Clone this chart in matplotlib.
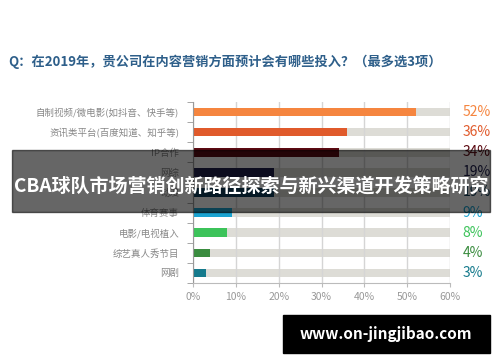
import matplotlib
matplotlib.use("Agg")
from matplotlib import pyplot as plt
from matplotlib.patches import Rectangle

plt.rcParams['font.family'] = ['Noto Sans CJK SC', 'DejaVu Sans']

categories = ["自制视频/微电影(如抖音、快手等)", "资讯类平台(百度知道、知乎等)", "IP合作", "网综",
              "动漫", "体育赛事", "电影/电视植入", "综艺真人秀节目", "网剧"]
values = [52, 36, 34, 19, 19, 9, 8, 4, 3]
labels = ["52%", "36%", "34%", "19%", "19%", "9%", "8%", "4%", "3%"]
colors = ["#f5853f", "#e05a2b", "#5c0a12", "#1f1f4d", "#0e3d5c", "#19a3d1", "#3cc35a", "#3a8c3f", "#157a8c"]
xticks = [0, 10, 20, 30, 40, 50, 60]

fig = plt.figure(figsize=(5, 3.62), dpi=100)
ax = fig.add_axes([193 / 500, 1 - 283 / 362, 257 / 500, 181 / 362])

y = list(range(len(categories)))[::-1]
ax.barh(y, [60] * len(values), height=0.42, color="#dddcd6", zorder=1)
ax.barh(y, values, height=0.42, color=colors, zorder=2)
ax.set_xlim(0, 60)
ax.set_ylim(-0.5, len(categories) - 0.5)
ax.set_xticks(xticks)
ax.set_xticklabels([f"{t}%" for t in xticks], color="#999999", fontsize=7.5)
ax.set_yticks(y)
ax.set_yticklabels(categories, color="#888888", fontsize=6.8)
ax.tick_params(axis="y", length=0, pad=10)
ax.tick_params(axis="x", length=3, color="#bbbbbb")
ax.set_yticks([i + 0.5 for i in range(len(categories) - 1)] + [-0.5, len(categories) - 0.5], minor=True)
ax.tick_params(axis="y", which="minor", length=4, color="#999999")
ax.grid(axis="x", color="#d5d5d5", linewidth=1, zorder=0)
for s in ["top", "right"]:
    ax.spines[s].set_visible(False)
ax.spines["left"].set_color("#999999")
ax.spines["bottom"].set_color("#bbbbbb")

for yi, lab, c in zip(y, labels, colors):
    ax.text(1.05, yi, lab, transform=ax.get_yaxis_transform(), color=c,
            fontsize=10, ha="left", va="center")

fig.text(8 / 500, 1 - 62 / 362, "Q：在2019年，贵公司在内容营销方面预计会有哪些投入？（最多选3项）",
         color="#2e5f8a", fontsize=9.5, fontweight="semibold", ha="left", va="center")

# overlay banner
fig.patches.append(Rectangle((12 / 500, 1 - 212 / 362), 478 / 500, 62 / 362,
                             transform=fig.transFigure, color="black", alpha=0.6, zorder=5))
fig.text(251 / 500, 1 - 186 / 362, "CBA球队市场营销创新路径探索与新兴渠道开发策略研究",
         color="white", fontsize=13.7, fontweight="bold", ha="center", va="center", zorder=6)

# watermark box
fig.patches.append(Rectangle((283 / 500, 1 - 353 / 362), 207 / 500, 38 / 362,
                             transform=fig.transFigure, color="black", zorder=5))
fig.text(386 / 500, 1 - 334 / 362, "www.on-jingjibao.com", color="white", fontsize=11,
         fontweight="bold", ha="center", va="center", zorder=6)

fig.savefig("out.png", dpi=100)
